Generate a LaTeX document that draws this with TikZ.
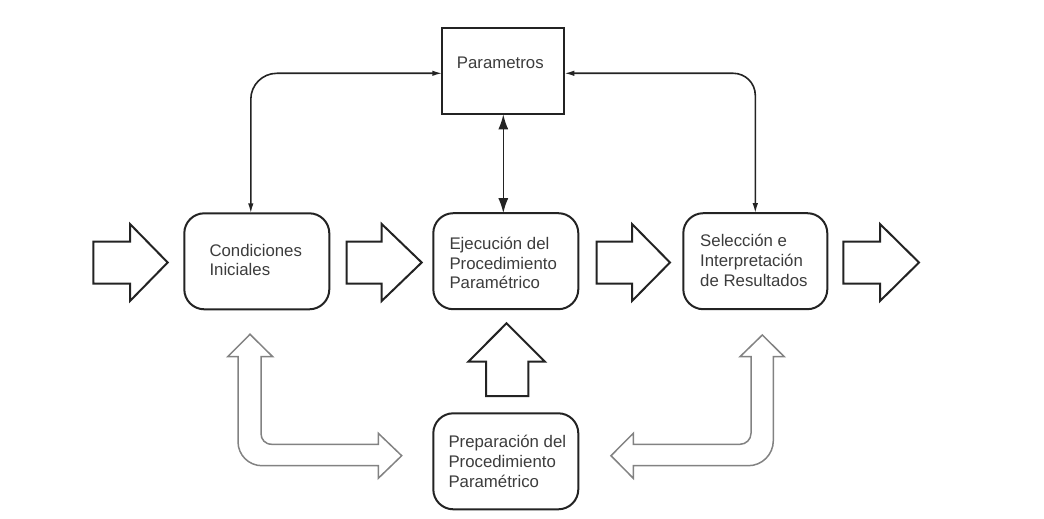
\documentclass[tikz,border=0pt]{standalone}
\usepackage{fontspec}
\newfontfamily\diagfont{Liberation Sans}
\usetikzlibrary{arrows.meta}
\definecolor{ink}{RGB}{35,35,35}
\definecolor{txt}{RGB}{60,60,60}
\definecolor{lgray}{RGB}{130,130,130}
\begin{document}
\begin{tikzpicture}[x=1pt,y=-1pt,
  rbox/.style={draw=ink,line width=2pt,rounded corners=20pt,minimum width=145pt,minimum height=96pt,inner sep=0pt,outer sep=0pt},
  sbox/.style={draw=ink,line width=2pt,minimum width=122pt,minimum height=86pt,inner sep=0pt,outer sep=0pt},
  lbl/.style={font=\diagfont\fontsize{16.8pt}{20pt}\selectfont,text=txt,anchor=base west,inner sep=0pt},
  conn/.style={draw=ink,line width=1.6pt},
  small/.style={Latex[length=10pt,width=5.5pt]},
  big/.style={Latex[length=15pt,width=10pt]},
  blk/.style={draw=ink,line width=2pt,fill=white,line join=miter},
  hol/.style={draw=lgray,line width=1.5pt,fill=white,line join=miter}]
\useasboundingbox (0,0) rectangle (1044,519);

% boxes
\node[sbox] (par) at (503.3,71.3) {};
\node[rbox] (cond) at (256.8,261.3) {};
\node[rbox] (ejec) at (505.8,261.2) {};
\node[rbox,minimum width=144pt] (sel) at (755.3,261.2) {};
\node[rbox] (prep) at (505.8,461.3) {};

% labels
\node[lbl] (tpar) at (456.7,68.3) {Parametros};
\node[lbl] (tcond1) at (209.3,256) {Condiciones};
\node[lbl] (tcond2) at (209.3,275) {Iniciales};
\node[lbl] (tej1) at (449.3,249) {Ejecución del};
\node[lbl] (tej2) at (449.3,269) {Procedimiento};
\node[lbl] (tej3) at (449.3,288) {Paramétrico};
\node[lbl] (tsel1) at (700,246.7) {Selección e};
\node[lbl] (tsel2) at (700,266.7) {Interpretación};
\node[lbl] (tsel3) at (700,286) {de Resultados};
\node[lbl] (tpr1) at (448.3,447.3) {Preparación del};
\node[lbl] (tpr2) at (448.3,467.3) {Procedimiento};
\node[lbl] (tpr3) at (448.3,487) {Paramétrico};

% connectors
\draw[conn,rounded corners=26pt,{Latex[length=10pt,width=5.5pt]}-{Latex[length=10pt,width=5.5pt]}]
  ([yshift=-2pt]par.west) -| ([xshift=-6pt]cond.north);
\draw[conn,rounded corners=22pt,{Latex[length=10pt,width=5.5pt]}-{Latex[length=10pt,width=5.5pt]}]
  ([yshift=-2pt]par.east) -| (sel.north);
\draw[conn,{Latex[length=15pt,width=10pt]}-{Latex[length=15pt,width=10pt]}]
  (par.south) -- (par.south |- ejec.north);

% block arrows (right pointing)
\draw[blk] (93.3,241.5) -- (130,241.5) -- (130,224) -- (167.7,262.5) -- (130,301) -- (130,283.5) -- (93.3,283.5) -- cycle;
\draw[blk] (346.7,241.5) -- (381.7,241.5) -- (381.7,224) -- (421.7,262.5) -- (381.7,301) -- (381.7,283.5) -- (346.7,283.5) -- cycle;
\draw[blk] (596.7,241.5) -- (632,241.5) -- (632,224) -- (670,262.5) -- (632,301) -- (632,283.5) -- (596.7,283.5) -- cycle;
\draw[blk] (843.3,241.5) -- (880,241.5) -- (880,224) -- (919,262.5) -- (880,301) -- (880,283.5) -- (843.3,283.5) -- cycle;

% block arrow up
\draw[blk] (486,396) -- (486,361.7) -- (468.3,361.7) -- (506.5,323.3) -- (545,361.7) -- (528.3,361.7) -- (528.3,396) -- cycle;

% hollow L arrows
\draw[hol] (250,334.3) -- (272.7,356.7) -- (261,356.7) -- (261,433.3)
  .. controls (261,439.4) and (264.9,444.3) .. (272,444.3)
  -- (378.3,444.3) -- (378.3,433.3) -- (401.7,455.7) -- (378.3,478.3) -- (378.3,465.7)
  -- (262,465.7) .. controls (248.7,465.7) and (238,455) .. (238,441.7)
  -- (238,356.7) -- (227.7,356.7) -- cycle;
\draw[hol] (762.3,335) -- (784.3,356.7) -- (773.3,356.7) -- (773.3,440.7)
  .. controls (773.3,454.5) and (762.1,465.7) .. (748.3,465.7)
  -- (633.3,465.7) -- (633.3,478.3) -- (611,455.7) -- (633.3,433.3) -- (633.3,444.3)
  -- (740,444.3) .. controls (746.1,444.3) and (751,439.4) .. (751,433.3)
  -- (751,356.7) -- (740,356.7) -- cycle;
\end{tikzpicture}
\end{document}
